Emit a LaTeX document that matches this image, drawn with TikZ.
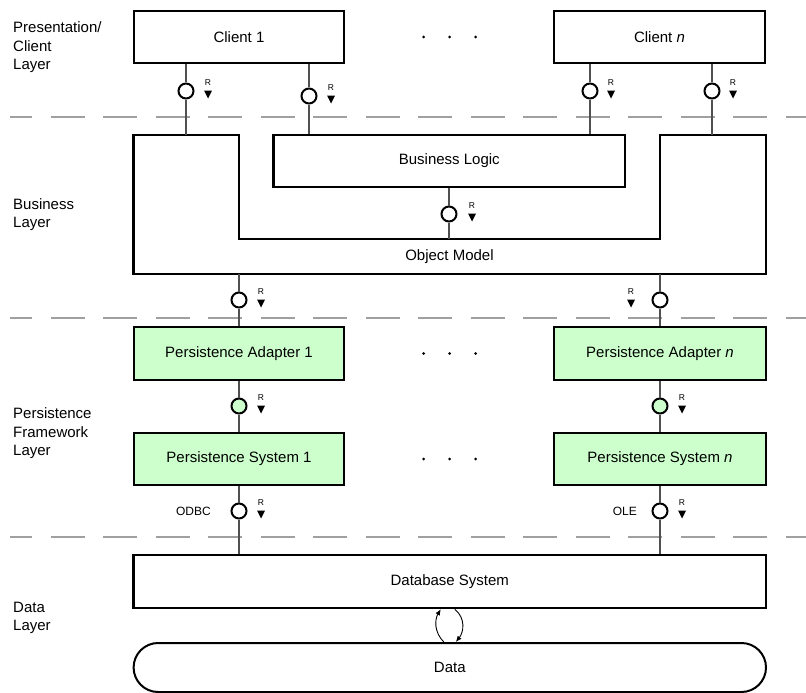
\documentclass[tikz,border=0pt]{standalone}
\usepackage{fontspec}
\setmainfont{Liberation Sans}
\usetikzlibrary{arrows.meta}
\definecolor{pgreen}{HTML}{CCFFCC}
\definecolor{linegray}{HTML}{505050}
\definecolor{sepgray}{HTML}{A0A0A0}
\newcommand\lol[5]{%
  \node[lolly, fill=#5] (#1) at (#2,#3) {};
  \node[rlab] (#1R) at ({#2+#4},{#3-8}) {R};
  \fill ({#2+#4-4},{#3-0.5}) -- ({#2+#4+4},{#3-0.5}) -- ({#2+#4},{#3+7.5}) -- cycle;
}
\begin{document}
\begin{tikzpicture}[x=1pt,y=-1pt,
  box/.style={draw=black, line width=2.4pt, minimum width=#1, minimum height=52.5, inner sep=0, font=\fontsize{15}{18}\selectfont},
  greenbox/.style={box=#1, fill=pgreen},
  boxline/.style={draw=black, line width=2.4pt},
  conn/.style={draw=linegray, line width=1.4pt},
  lolly/.style={circle, draw=black, line width=2pt, minimum size=15, inner sep=0},
  sepline/.style={draw=sepgray, line width=2.6pt, dash pattern=on 34pt off 18.5pt, dash phase=12pt},
  lab/.style={font=\fontsize{15}{18.4}\selectfont, align=left, anchor=west, inner sep=0},
  rlab/.style={font=\fontsize{8.5}{9}\selectfont, inner sep=0},
  txt/.style={font=\fontsize{15}{18}\selectfont, inner sep=0},
  small/.style={font=\fontsize{12}{14}\selectfont, inner sep=0},
  cyc/.style={draw=black, line width=0.9pt, -{Latex[length=6pt,width=5pt]}}
]
\useasboundingbox (0,0) rectangle (806,693);

% separators
\draw[sepline] (10,117) -- (806,117);
\draw[sepline] (10,318) -- (806,318);
\draw[sepline] (10,537) -- (806,537);

% layer labels
\node[lab] (L1) at (13,47.5) {Presentation/\\Client\\Layer};
\node[lab] (L2) at (13,214.6) {Business\\Layer};
\node[lab] (L3) at (13,433.5) {Persistence\\Framework\\Layer};
\node[lab] (L4) at (13,618) {Data\\Layer};

% clients
\node[box=210] (c1) at (239,37) {Client 1};
\node[box=211] (cn) at (659.5,37) {Client \textit{n}};
\foreach \x in {423.5,449.5,475.5} {
  \fill (\x,37) circle (1.5);
  \fill (\x,353.5) circle (1.5);
  \fill (\x,459) circle (1.5);
}

% object model
\draw[boxline] (133.6,135) -- (239,135) -- (239,239) -- (660,239) -- (660,135) -- (766,135) -- (766,274) -- (133.6,274) -- cycle;
\node[txt] (om) at (449.5,257) {Object Model};
\coordinate (omA) at (186,135);
\coordinate (omB) at (712,135);
\coordinate (omC) at (449,239);
\coordinate (omD) at (239,274);
\coordinate (omE) at (660,274);

% business logic
\node[box=351.4, minimum height=52] (bl) at (449.3,161) {Business Logic};

% persistence
\node[greenbox=210] (pa1) at (239,353.5) {Persistence Adapter 1};
\node[greenbox=212] (pan) at (660,353.5) {Persistence Adapter \textit{n}};
\node[greenbox=210, minimum height=52] (ps1) at (239,459) {Persistence System 1};
\node[greenbox=212, minimum height=52] (psn) at (660,459) {Persistence System \textit{n}};

% database and data
\node[box=632.4, minimum height=53] (db) at (449.8,581.5) {Database System};
\node[box=632.4, minimum height=49, line width=2pt, rounded corners=24.5pt] (data) at (449.8,667.5) {Data};

% interfaces
\lol{i1}{186}{91}{22}{white}
\lol{i2}{309}{96}{22}{white}
\lol{i3}{590}{91}{21}{white}
\lol{i4}{712}{91}{21}{white}
\lol{i5}{449}{214}{23}{white}
\lol{i6}{239}{300}{22}{white}
\lol{i7}{660}{300}{-29}{white}
\lol{i8}{239}{406}{22}{pgreen}
\lol{i9}{660}{406}{22}{pgreen}
\lol{i10}{239}{511}{22}{white}
\lol{i11}{660}{511}{22}{white}
\node[small, anchor=east] (odbc) at (211,511) {ODBC};
\node[small, anchor=east] (ole) at (637,511) {OLE};

% connectors
\draw[conn] (c1.south -| i1) -- (i1.north);
\draw[conn] (i1.south) -- (omA);
\draw[conn] (c1.south -| i2) -- (i2.north);
\draw[conn] (i2.south) -- (bl.north -| i2);
\draw[conn] (cn.south -| i3) -- (i3.north);
\draw[conn] (i3.south) -- (bl.north -| i3);
\draw[conn] (cn.south -| i4) -- (i4.north);
\draw[conn] (i4.south) -- (omB);
\draw[conn] (bl.south -| i5) -- (i5.north);
\draw[conn] (i5.south) -- (omC);
\draw[conn] (omD) -- (i6.north);
\draw[conn] (i6.south) -- (pa1.north -| i6);
\draw[conn] (omE) -- (i7.north);
\draw[conn] (i7.south) -- (pan.north -| i7);
\draw[conn] (pa1.south -| i8) -- (i8.north);
\draw[conn] (i8.south) -- (ps1.north -| i8);
\draw[conn] (pan.south -| i9) -- (i9.north);
\draw[conn] (i9.south) -- (psn.north -| i9);
\draw[conn] (ps1.south -| i10) -- (i10.north);
\draw[conn] (i10.south) -- (db.north -| i10);
\draw[conn] (psn.south -| i11) -- (i11.north);
\draw[conn] (i11.south) -- (db.north -| i11);

% read/write cycle
\draw[cyc] ([xshift=-6pt]data.north) .. controls +(-10,-10) and +(-6,10) .. ([xshift=-9pt]db.south);
\draw[cyc] ([xshift=5pt]db.south) .. controls +(11,9) and +(8,-10) .. ([xshift=6pt]data.north);
\end{tikzpicture}
\end{document}
